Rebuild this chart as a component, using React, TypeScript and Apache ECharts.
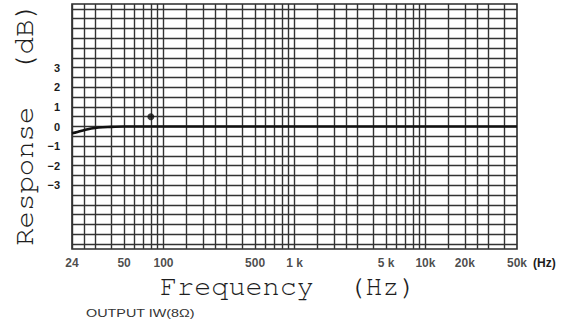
import React, { useEffect, useRef } from 'react';
import * as echarts from 'echarts';

// Measured response curve (Hz, dB)
const responseFreq = [20, 22, 25, 28, 32, 40, 50, 70, 100, 1000, 10000, 50000];
const responseDb = [-0.35, -0.28, -0.18, -0.1, -0.05, -0.02, 0, 0, 0, 0, 0, 0];
// Single marked point
const markerFreq = [80];
const markerDb = [0.5];

// Axis ranges
const xMin = 20;
const xMax = 50000;
const yMin = -6.25;
const yMax = 6.25;

// Tick labels
const xTickValues = [20, 50, 100, 500, 1000, 5000, 10000, 20000, 50000];
const xTickLabels = ['24', '50', '100', '500', '1 k', '5 k', '10k', '20k', '50k'];
const yTickValues = [3, 2, 1, 0, -1, -2, -3];

// Chart-paper grid lines
const gridFreqs = [
  20, 25, 30, 40, 50, 60, 70, 80, 90,
  100, 150, 200, 250, 300, 400, 500, 600, 700, 800, 900,
  1000, 1500, 2000, 2500, 3000, 4000, 5000, 6000, 7000, 8000, 9000,
  10000, 15000, 20000, 25000, 30000, 40000,
];
const gridDb = [
  -6, -5.5, -5, -4.5, -4, -3.5, -3, -2.5, -2, -1.5, -1, -0.5, 0,
  0.5, 1, 1.5, 2, 2.5, 3, 3.5, 4, 4.5, 5, 5.5, 6,
];

const tickFont = "'Liberation Sans Narrow', 'Liberation Sans', Arial, sans-serif";
const titleFont =
  "'Nimbus Mono PS', 'Nimbus Mono L', FreeMono, 'Courier New', Courier, 'Liberation Mono', monospace";
const ink = '#1c1c1c';

export default function App() {
  const ref = useRef<HTMLDivElement>(null);

  useEffect(() => {
    if (!ref.current) return;
    const chart = echarts.init(ref.current, null, { renderer: 'svg' });

    const gridLineData: any[] = [
      ...gridFreqs.map((f) => ({ xAxis: f })),
      ...gridDb.map((d) => ({ yAxis: d })),
    ];

    chart.setOption({
      animation: false,
      backgroundColor: '#ffffff',
      grid: {
        left: 72,
        right: 65,
        top: 4,
        bottom: 74,
        show: true,
        borderColor: '#2a2a2a',
        borderWidth: 1.6,
        backgroundColor: '#ffffff',
      },
      xAxis: {
        type: 'log',
        logBase: 10,
        min: xMin,
        max: xMax,
        axisLine: { show: false },
        axisTick: { show: false },
        axisLabel: { show: false },
        splitLine: { show: false },
        minorSplitLine: { show: false },
      },
      yAxis: {
        type: 'value',
        min: yMin,
        max: yMax,
        axisLine: { show: false },
        axisTick: { show: false },
        splitLine: { show: false },
        axisLabel: {
          show: true,
          customValues: yTickValues,
          margin: 12,
          fontFamily: tickFont,
          fontSize: 11,
          fontWeight: 'bold',
          color: ink,
          formatter: (v: number) => (v < 0 ? '\u2212' + Math.abs(v) : String(v)),
        },
      },
      series: [
        {
          name: 'paper',
          type: 'scatter',
          clip: false,
          z: 1,
          symbolSize: 1,
          itemStyle: { color: 'rgba(0,0,0,0)' },
          data: xTickValues.map((v) => [v, yMin]),
          label: {
            show: true,
            position: 'bottom',
            distance: 7,
            fontFamily: tickFont,
            fontSize: 12,
            fontWeight: 'bold',
            color: ink,
            formatter: (p: any) => xTickLabels[p.dataIndex],
          },
          markLine: {
            silent: true,
            symbol: 'none',
            label: { show: false },
            lineStyle: { color: '#333333', width: 1.4, type: 'solid' },
            data: gridLineData,
          },
        },
        {
          name: 'response',
          type: 'line',
          z: 5,
          smooth: 0.4,
          symbol: 'none',
          lineStyle: { color: '#111', width: 2.6 },
          data: responseFreq.map((f, i) => [f, responseDb[i]]),
        },
        {
          name: 'marker',
          type: 'scatter',
          z: 6,
          symbolSize: 7,
          itemStyle: { color: '#111' },
          data: markerFreq.map((f, i) => [f, markerDb[i]]),
        },
      ],
      graphic: [
        {
          type: 'text',
          x: 533,
          y: 263,
          style: {
            text: '(Hz)',
            fontFamily: tickFont,
            fontSize: 12,
            fontWeight: 'bold',
            fill: ink,
            align: 'left',
            verticalAlign: 'middle',
            textAlign: 'left',
            textVerticalAlign: 'middle',
          },
        },
        {
          type: 'text',
          x: 160,
          y: 286,
          style: {
            text: 'Frequency  (Hz)',
            fontFamily: titleFont,
            fontSize: 28.5,
            fill: '#1e1e1e',
            align: 'left',
            verticalAlign: 'middle',
            textAlign: 'left',
            textVerticalAlign: 'middle',
          },
        },
        {
          type: 'text',
          x: 24,
          y: 124,
          rotation: Math.PI / 2,
          style: {
            text: 'Response  (dB)',
            fontFamily: titleFont,
            fontSize: 29,
            fill: '#1e1e1e',
            align: 'center',
            verticalAlign: 'middle',
            textAlign: 'center',
            textVerticalAlign: 'middle',
          },
        },
        {
          type: 'text',
          x: 86,
          y: 313,
          scaleX: 1.25,
          style: {
            text: 'OUTPUT IW(8\u03A9)',
            fontFamily: "'Liberation Sans', Arial, sans-serif",
            fontSize: 11.5,
            fill: '#333',
            align: 'left',
            verticalAlign: 'middle',
            textAlign: 'left',
            textVerticalAlign: 'middle',
          },
        },
      ],
    });

    return () => chart.dispose();
  }, []);

  return (
    <div
      ref={ref}
      style={{ position: 'absolute', left: 0, top: 0, width: 582, height: 323 }}
    />
  );
}
